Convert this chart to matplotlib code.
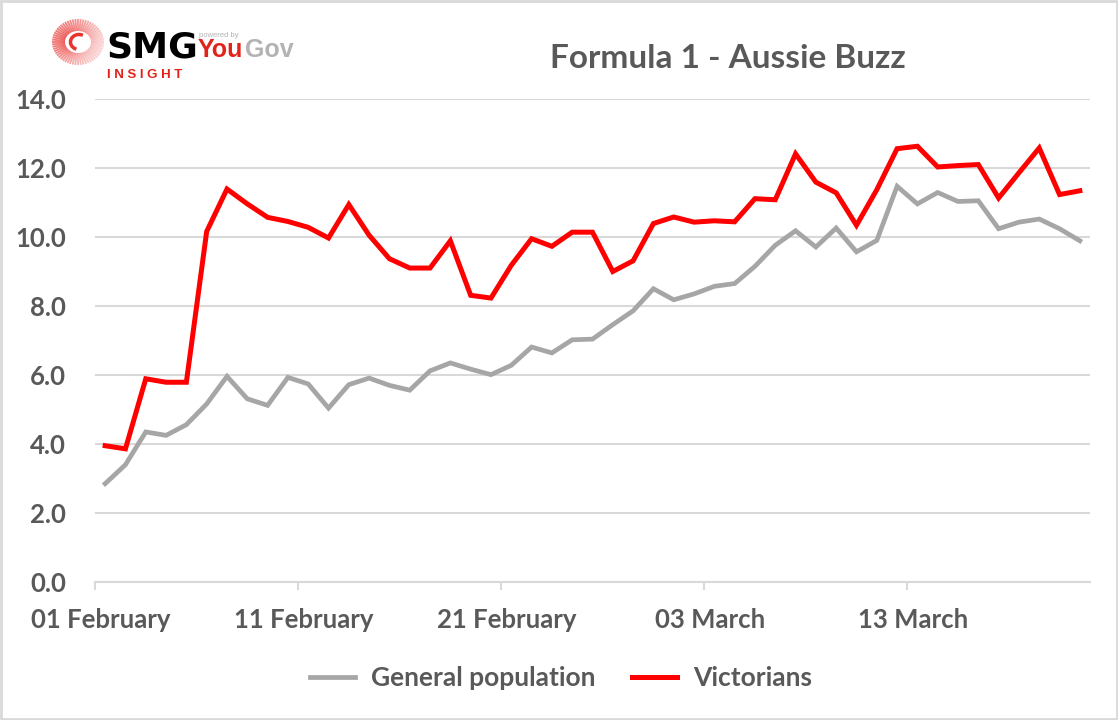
import numpy as np
import matplotlib.pyplot as plt
from matplotlib.patches import Rectangle, Arc

# ── Data (index 0 = 01 February, daily to 21 March) ──────────────────────────
general = [2.85, 3.40, 4.35, 4.25, 4.56, 5.16, 5.96, 5.31, 5.12, 5.93,
           5.74, 5.04, 5.72, 5.91, 5.70, 5.56, 6.12, 6.35, 6.17, 6.01,
           6.28, 6.81, 6.64, 7.02, 7.04, 7.46, 7.86, 8.50, 8.18, 8.35,
           8.57, 8.65, 9.15, 9.76, 10.18, 9.71, 10.26, 9.57, 9.90, 11.47,
           10.96, 11.29, 11.03, 11.05, 10.24, 10.43, 10.52, 10.24, 9.89]
victorians = [3.95, 3.86, 5.89, 5.79, 5.79, 10.16, 11.39, 10.96, 10.57, 10.45,
              10.28, 9.97, 10.94, 10.05, 9.37, 9.10, 9.10, 9.89, 8.31, 8.23,
              9.18, 9.95, 9.73, 10.14, 10.14, 9.00, 9.31, 10.39, 10.58, 10.43,
              10.47, 10.44, 11.11, 11.08, 12.41, 11.59, 11.28, 10.34, 11.37, 12.56,
              12.63, 12.03, 12.07, 12.10, 11.13, 11.86, 12.58, 11.23, 11.34]
tick_days   = [0, 10, 20, 30, 40]
tick_labels = ['01 February', '11 February', '21 February', '03 March', '13 March']
y_ticks     = [0, 2, 4, 6, 8, 10, 12, 14]

TXT  = '#595959'
GRID = '#d9d9d9'
FONT = 'Lato'

W, H = 1118, 720
fig = plt.figure(figsize=(W / 100, H / 100), dpi=100)

# background layer in pixel coords (border + logo)
bg = fig.add_axes([0, 0, 1, 1], zorder=0)
bg.set_xlim(0, W)
bg.set_ylim(H, 0)
bg.axis('off')
bg.add_patch(Rectangle((1, 1), W - 2, H - 2, fill=False, ec=GRID, lw=2))

# ── Logo ─────────────────────────────────────────────────────────────────────
cx, cy = 78, 42
for a in np.arange(0, 360, 6):
    t = np.deg2rad(a)
    shade = 0.3 + 0.6 * (0.5 + 0.5 * np.cos(t - np.deg2rad(200)))
    bg.plot([cx + 13 * np.cos(t), cx + 26 * np.cos(t)],
            [cy + 11 * np.sin(t), cy + 23 * np.sin(t)],
            color='#e8332f', alpha=shade * 0.75, lw=1.3, solid_capstyle='butt')
bg.add_patch(Arc((cx + 1, cy), 17, 15, theta1=110, theta2=300,
                 color='#e8332f', lw=2.5))
bg.text(106, 57, 'SMG', fontsize=26, fontweight='black', family='DejaVu Sans',
        color='black', va='baseline', ha='left')
bg.text(198, 57, 'You', fontsize=18, fontweight='bold', family='Liberation Sans',
        color='#e2231a', va='baseline', ha='left')
bg.text(245, 57, 'Gov', fontsize=18, fontweight='bold', family='Liberation Sans',
        color='#b3b3b3', va='baseline', ha='left')
bg.text(199, 37, 'powered by', fontsize=5.5, family='Liberation Sans',
        color='#b3b3b3', va='baseline', ha='left')
bg.text(107, 78, 'I N S I G H T', fontsize=9.5, fontweight='bold',
        family='Liberation Sans', color='#e2231a', va='baseline', ha='left')

# title
fig.text(728 / W, 1 - 58 / H, 'Formula 1 - Aussie Buzz', fontsize=24,
         fontweight='bold', family=FONT, color=TXT, ha='center', va='center')

# ── Chart ────────────────────────────────────────────────────────────────────
ax = fig.add_axes([95 / W, 1 - 582 / H, 995 / W, 483 / H], zorder=1)
ax.patch.set_alpha(0)
x = np.arange(len(general))
ax.plot(x, general, color='#a6a6a6', lw=3.4, label='General population',
        solid_joinstyle='miter', zorder=3)
ax.plot(x, victorians, color='#ff0000', lw=3.6, label='Victorians',
        solid_joinstyle='miter', zorder=4)

ax.set_xlim(-0.5, len(general) - 0.5)
ax.set_ylim(0, 14)
ax.set_yticks(y_ticks)
ax.set_yticklabels([f'{v:.1f}' for v in y_ticks])
ax.grid(axis='y', color=GRID, lw=1.5)
ax.set_axisbelow(True)

ax.set_xticks([d - 0.2 for d in tick_days])
ax.set_xticklabels(tick_labels)
ax.set_xticks([d - 0.5 for d in tick_days], minor=True)
ax.tick_params(axis='x', which='major', length=0, pad=19)
ax.tick_params(axis='x', which='minor', length=6, width=1.5, color=GRID)
ax.tick_params(axis='y', length=0, pad=21)
for lab in ax.get_xticklabels() + ax.get_yticklabels():
    lab.set_fontsize(18.5)
    lab.set_fontweight('bold')
    lab.set_family(FONT)
    lab.set_color(TXT)

for s in ['top', 'right', 'left']:
    ax.spines[s].set_visible(False)
ax.spines['bottom'].set_color(GRID)
ax.spines['bottom'].set_linewidth(1.5)

leg = fig.legend(loc='center', bbox_to_anchor=(561 / W, 1 - 678 / H), ncol=2,
                 frameon=False, handlelength=1.7, handletextpad=0.6,
                 columnspacing=1.4,
                 prop={'family': FONT, 'weight': 'bold', 'size': 19})
for t in leg.get_texts():
    t.set_color(TXT)

fig.savefig('out.png', dpi=100)
